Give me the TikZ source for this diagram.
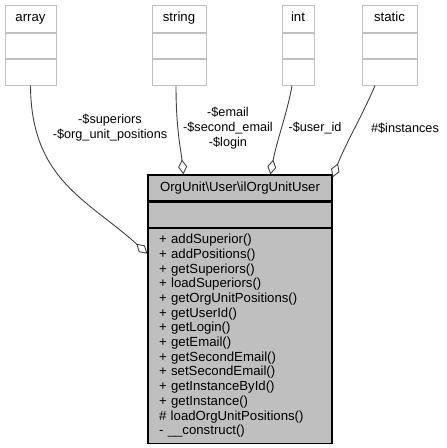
\documentclass[tikz,border=0pt]{standalone}
\usepackage{fontspec}
\setmainfont{Liberation Sans}
\usepackage{tikz}
\usetikzlibrary{shapes,arrows.meta,positioning}
\definecolor{boxgray}{HTML}{BFBFBF}
\definecolor{edgegray}{HTML}{404040}
\newcommand{\dotfont}{\fontsize{13.2}{14.67}\selectfont}
\newcommand{\edgefont}{\fontsize{12.7}{15}\selectfont}
\tikzstyle{tnode} = [rectangle, draw=boxgray, fill=white, line width=1pt, inner sep=0pt, minimum height=25.5pt, text height=9.5pt, text depth=3pt, font=\dotfont]
\tikzstyle{cnode} = [rectangle, draw=black, fill=boxgray, line width=1.2pt, inner sep=0pt, minimum width=184pt, text height=9.5pt, text depth=3pt, font=\dotfont]
\tikzstyle{elabel} = [align=center, inner sep=0pt, font=\edgefont]
\tikzstyle{line} = [draw=edgegray, line width=0.9pt, -{Diamond[open, length=15pt, width=9pt]}]

\begin{document}
\begin{tikzpicture}[x=1pt, y=-1pt]
			\useasboundingbox (0,0) rectangle (447,448);

			% member types
			\node [tnode, minimum width=51pt, minimum height=27pt] (array) at (30.5, 18.5) {array};
			\node [tnode, minimum width=51pt, below=0pt of array] (arrayA) {};
			\node [tnode, minimum width=51pt, below=0pt of arrayA] (arrayB) {};
			\node [tnode, minimum width=54pt, minimum height=27pt] (string) at (179, 18.5) {string};
			\node [tnode, minimum width=54pt, below=0pt of string] (stringA) {};
			\node [tnode, minimum width=54pt, below=0pt of stringA] (stringB) {};
			\node [tnode, minimum width=32pt, minimum height=27pt] (int) at (298, 18.5) {int};
			\node [tnode, minimum width=32pt, below=0pt of int] (intA) {};
			\node [tnode, minimum width=32pt, below=0pt of intA] (intB) {};
			\node [tnode, minimum width=55pt, minimum height=27pt] (static) at (389.5, 18.5) {static};
			\node [tnode, minimum width=55pt, below=0pt of static] (staticA) {};
			\node [tnode, minimum width=55pt, below=0pt of staticA] (staticB) {};

			% the class
			\node [cnode, minimum height=26pt] (title) at (240, 188) {OrgUnit\textbackslash User\textbackslash ilOrgUnitUser};
			\node [cnode, minimum height=25pt, below=0pt of title] (attrs) {};
			\node [cnode, minimum height=215pt, below=0pt of attrs, text height=, text depth=, text width=162pt, inner xsep=11pt, align=left] (methods) {+ addSuperior()\\+ addPositions()\\+ getSuperiors()\\+ loadSuperiors()\\+ getOrgUnitPositions()\\+ getUserId()\\+ getLogin()\\+ getEmail()\\+ getSecondEmail()\\+ setSecondEmail()\\+ getInstanceById()\\+ getInstance()\\\# loadOrgUnitPositions()\\- \_\_construct()};

			\path [line] (arrayB.south) .. controls (31,180) and (88,200) .. ([yshift=-26pt]methods.north west);
			\path [line] ([xshift=-3pt]stringB.south) .. controls (176,130) and (181,150) .. ([xshift=36pt]title.north west);
			\path [line] ([xshift=-6pt]intB.south) .. controls (288,110) and (277,140) .. ([xshift=123pt]title.north west);
			\path [line] ([xshift=-14.5pt]staticB.south) .. controls (365,110) and (345,145) .. ([yshift=-3pt]title.north east);

			\node [elabel] (supl) at (110, 127.5) {-\$superiors\\-\$org\_unit\_positions};
			\node [elabel] (emaill) at (228, 128) {-\$email\\-\$second\_email\\-\$login};
			\node [elabel] (idl) at (315, 128) {-\$user\_id};
			\node [elabel] (instl) at (405, 128) {\#\$instances};
		\end{tikzpicture}
\end{document}
